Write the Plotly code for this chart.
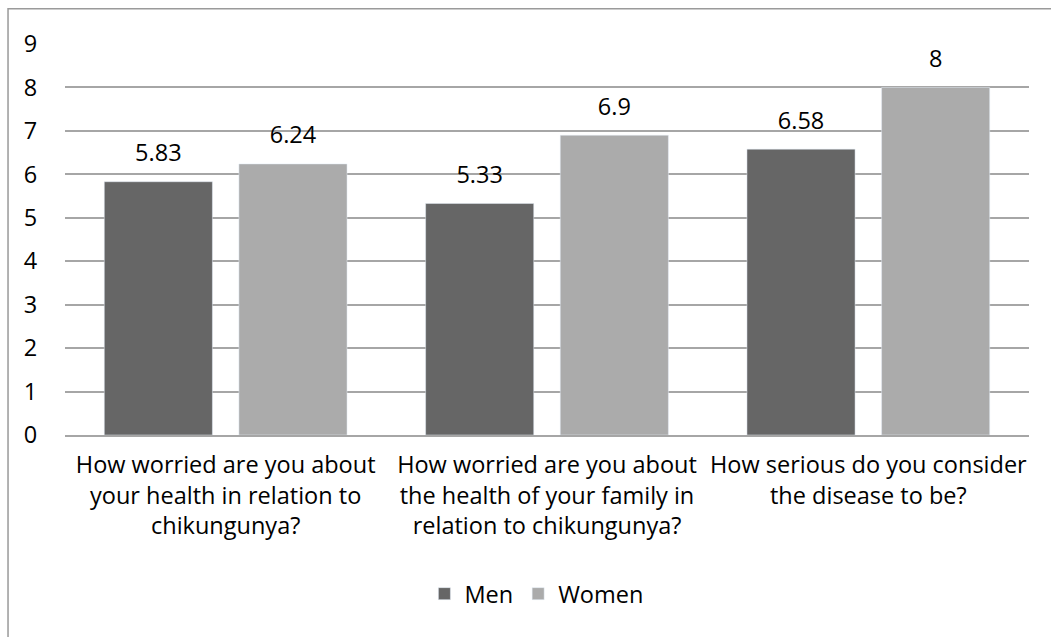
import plotly.graph_objects as go

categories = [
    "How worried are you about<br>your health in relation to<br>chikungunya?",
    "How worried are you about<br>the health of your family in<br>relation to chikungunya?",
    "How serious do you consider<br>the disease to be?",
]
men = [5.83, 5.33, 6.58]
women = [6.24, 6.9, 8]
men_labels = ["5.83", "5.33", "6.58"]
women_labels = ["6.24", "6.9", "8"]

FONT = "Open Sans"
FS = 23.5
MEN_COLOR = "#666666"
WOMEN_COLOR = "#ababab"

fig = go.Figure()
fig.add_trace(go.Bar(x=categories, y=men, name="Men", marker_color=MEN_COLOR,
                     offsetgroup="m", hoverinfo="skip"))
fig.add_trace(go.Bar(x=categories, y=women, name="Women", marker_color=WOMEN_COLOR,
                     offsetgroup="w", hoverinfo="skip"))
# value labels
fig.add_trace(go.Scatter(x=categories, y=men, mode="markers+text", text=men_labels,
                         textposition="top center", offsetgroup="m",
                         marker=dict(size=22, opacity=0), showlegend=False,
                         textfont=dict(family=FONT, size=FS, color="#000000")))
fig.add_trace(go.Scatter(x=categories, y=women, mode="markers+text", text=women_labels,
                         textposition="top center", offsetgroup="w",
                         marker=dict(size=22, opacity=0), showlegend=False,
                         textfont=dict(family=FONT, size=FS, color="#000000")))

fig.update_layout(
    width=1051, height=637,
    barmode="group", scattermode="group",
    bargap=0.162, bargroupgap=0.197,
    margin=dict(l=65, r=22, t=44, b=202),
    plot_bgcolor="white", paper_bgcolor="white",
    font=dict(family=FONT, size=FS, color="#000000"),
    showlegend=True,
    legend=dict(orientation="h", x=0.489, xanchor="center", y=-0.35, yanchor="top",
                font=dict(family=FONT, size=FS), itemwidth=30, traceorder="normal"),
    shapes=[dict(type="rect", xref="paper", yref="paper",
                 x0=-0.0591, x1=1.05, y0=-1.0, y1=1.09,
                 line=dict(color="#9a9a9a", width=1.5), layer="below")],
)
fig.update_yaxes(range=[0, 9], dtick=1, showgrid=True, gridcolor="#a6a6a6", gridwidth=1.5,
                 zeroline=False, showline=False, ticks="outside", ticklen=22,
                 tickcolor="rgba(0,0,0,0)", tickfont=dict(family=FONT, size=FS))
fig.update_xaxes(showline=True, linecolor="#a6a6a6", linewidth=1.5, ticks="outside",
                 ticklen=8, tickcolor="rgba(0,0,0,0)", tickfont=dict(family=FONT, size=FS))

fig.write_html("out.html")
